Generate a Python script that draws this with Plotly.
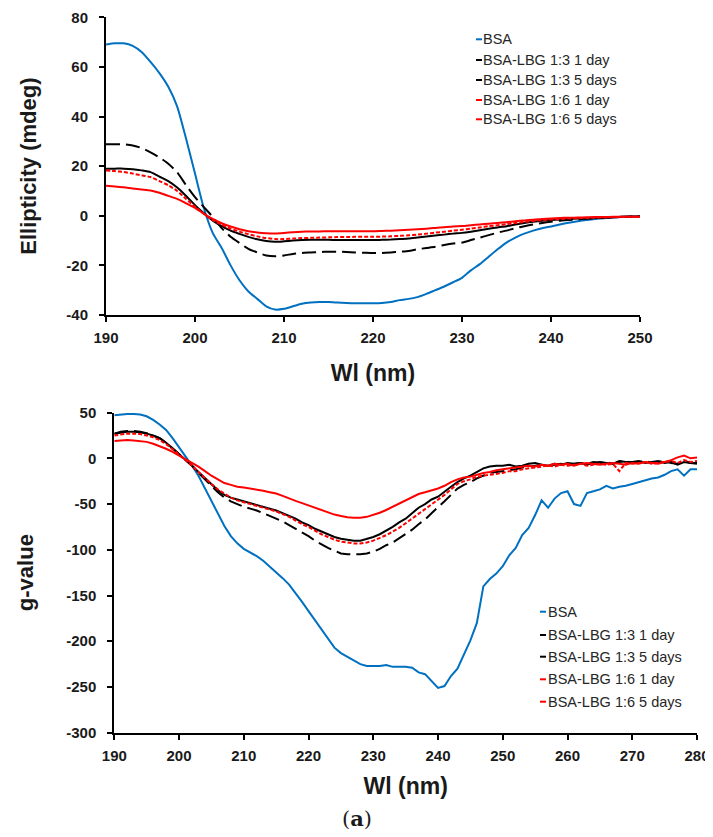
import plotly.graph_objects as go

# ---------------- data ----------------
wl_top = list(range(190, 251))
ell_bsa = [69, 69.5, 69.5, 68.5, 66, 62, 57.5, 52, 44, 31,
           17, 3, -7, -13, -20, -26, -30.5, -33.5, -36.5, -37.8,
           -37.5, -36.5, -35.5, -35, -34.8, -34.8, -35, -35.2, -35.3, -35.3,
           -35.3, -35.2, -34.8, -34, -33.5, -32.8, -31.5, -30, -28.5, -26.8,
           -25, -22, -19.5, -16.5, -13.5, -10.8, -8.8, -7.2, -6, -5,
           -4.3, -3.5, -2.8, -2.2, -1.7, -1.3, -1, -0.7, -0.5, -0.3, -0.2]
ell_13_1d = [19, 19, 19, 18.8, 18.3, 17.6, 15.8, 14, 11.4, 8,
             4.3, 1, -2, -4.2, -6, -7.3, -8.5, -9.5, -10.2, -10.5,
             -10.3, -10, -9.8, -9.7, -9.7, -9.7, -9.8, -9.8, -9.8, -9.8,
             -9.8, -9.7, -9.6, -9.4, -9.2, -8.8, -8.4, -8, -7.6, -7.2,
             -6.9, -6.4, -5.8, -5.2, -4.7, -4.2, -3.5, -2.9, -2.4, -2,
             -1.7, -1.5, -1.3, -1.1, -1, -0.9, -0.7, -0.6, -0.4, -0.3, -0.3]
ell_13_5d = [28.8, 28.8, 28.8, 28.3, 27.3, 25.6, 23.5, 21, 17.5, 12.3,
             7.5, 3.5, -0.5, -5, -8.5, -11, -13.3, -14.8, -16, -16.3,
             -16, -15.4, -15, -14.8, -14.6, -14.5, -14.5, -14.6, -14.8, -14.9,
             -15, -15, -14.8, -14.5, -14.2, -13.5, -13, -12.5, -11.8, -11.2,
             -10.8, -9.8, -8.8, -7.8, -6.8, -6, -5, -4.2, -3.5, -2.9,
             -2.4, -2, -1.7, -1.4, -1.2, -1, -0.8, -0.6, -0.4, -0.3, -0.2]
ell_16_1d = [18.2, 18, 17.6, 17, 16.3, 15.6, 14, 12.3, 10, 6.8,
             3.6, 0.8, -1.8, -3.6, -5.2, -6.4, -7.4, -8.3, -9, -9.4,
             -9.4, -9.2, -9, -8.9, -8.8, -8.7, -8.6, -8.6, -8.5, -8.5,
             -8.5, -8.4, -8.3, -8.1, -7.9, -7.6, -7.2, -6.8, -6.4, -6,
             -5.6, -5.2, -4.7, -4.2, -3.8, -3.4, -2.9, -2.5, -2.1, -1.8,
             -1.5, -1.3, -1.1, -1, -0.9, -0.8, -0.7, -0.6, -0.5, -0.4, -0.4]
ell_16_5d = [12.1, 11.8, 11.5, 11, 10.6, 10.2, 9.3, 8, 6.8, 5,
             3.2, 0.8, -1.3, -3, -4.3, -5.4, -6.2, -6.7, -7, -7.1,
             -6.9, -6.6, -6.4, -6.3, -6.3, -6.2, -6.2, -6.2, -6.2, -6.2,
             -6.2, -6.1, -6, -5.8, -5.6, -5.4, -5.2, -4.9, -4.6, -4.3,
             -4.1, -3.8, -3.5, -3.2, -2.9, -2.6, -2.2, -1.9, -1.6, -1.3,
             -1.1, -0.9, -0.8, -0.7, -0.6, -0.5, -0.5, -0.4, -0.4, -0.4, -0.4]

wl_bot = list(range(190, 281))
g_bsa = [47, 48, 48.5, 48.5, 48, 46, 42, 37, 31, 22,
         12, 3, -8, -19, -33, -47, -61, -74, -85, -93,
         -99, -103, -107, -112, -118, -124, -131, -138, -147, -157,
         -167, -177, -188, -198, -207, -213, -217, -221, -225, -227,
         -227, -227, -226, -228, -228, -228, -229, -234, -236, -243,
         -251, -249, -238, -230, -215, -199, -180, -140, -132, -126,
         -118, -106, -98, -84, -76, -62, -46, -54, -44, -38,
         -36, -50, -52, -38, -36, -34, -30, -33, -31, -30,
         -28, -26, -24, -22, -21, -18, -14, -12, -19, -12, -12]
g_13_1d = [27, 28, 29, 29, 28.5, 27, 25, 22, 17, 11,
           5, -1, -8, -15, -22, -29, -35, -40, -43, -45,
           -47, -49, -51, -53, -55, -57, -60, -63, -66, -70,
           -73, -77, -80, -83, -86, -88, -89, -90, -90, -88,
           -86, -83, -79, -75, -70, -66, -60, -54, -50, -45,
           -42, -36, -31, -26, -22, -19, -15, -11, -9, -8,
           -8, -7, -9, -8, -6, -5, -7, -8, -6, -7,
           -5, -6, -5, -7, -5, -4, -5, -6, -3, -4,
           -4, -3, -5, -4, -3, -5, -4, -7, -4, -5, -6]
g_13_5d = [27, 29, 30, 30, 29, 27.5, 25, 22, 17, 11,
           5, -1, -8, -16, -23, -31, -37, -43, -47, -50,
           -53, -55, -57, -60, -63, -66, -69, -73, -77, -81,
           -85, -90, -94, -98, -101, -104, -105, -105, -105, -104,
           -102, -99, -95, -92, -87, -83, -78, -72, -67, -60,
           -54, -47, -40, -33, -29, -26, -22, -19, -16, -15,
           -14, -13, -12, -10, -9, -8, -7, -8, -7, -6,
           -7, -6, -5, -6, -4, -5, -4, -6, -4, -3,
           -5, -4, -3, -5, -4, -3, -5, -6, -3, -5, -5]
g_16_1d = [25, 26, 27, 27, 26.5, 25, 23, 20, 15.5, 10,
           4, -1, -8, -15, -22, -28, -34, -39, -43, -46,
           -48, -50, -52, -54, -56, -58, -61, -64, -68, -72,
           -75, -79, -83, -86, -89, -91, -92, -93, -93, -92,
           -90, -87, -84, -80, -76, -71, -66, -60, -56, -50,
           -46, -40, -34, -28, -25, -23, -20, -19, -18, -17,
           -16, -14, -14, -12, -11, -10, -9, -8, -9, -7,
           -8, -7, -6, -8, -7, -6, -7, -6, -14, -5,
           -6, -5, -4, -6, -5, -4, -3, -5, -2, -4, -3]
g_16_5d = [19, 19.5, 20, 19.5, 19, 18, 16, 13.5, 10.5, 7,
           3, -1, -5, -9, -14, -19, -23, -27, -29, -31,
           -32, -33, -34, -35.5, -37, -38.5, -41, -44, -46.5, -49,
           -51.5, -54, -57, -59.5, -61.5, -63, -64.5, -65, -65, -64,
           -62, -59.5, -56.5, -53, -49.5, -46, -42, -39, -37, -35,
           -33, -30, -26, -23, -21, -20, -18, -16, -15, -13,
           -12, -11, -10, -9, -8, -9, -7, -8, -6, -7,
           -6, -8, -6, -5, -6, -7, -6, -5, -6, -7,
           -5, -6, -4, -5, -6, -4, -2, 1, 3, 0, 1]

series_names = ["BSA", "BSA-LBG 1:3 1 day", "BSA-LBG 1:3 5 days",
                "BSA-LBG 1:6 1 day", "BSA-LBG 1:6 5 days"]

top_xticks = [190, 200, 210, 220, 230, 240, 250]
top_yticks = [-40, -20, 0, 20, 40, 60, 80]
bot_xticks = [190, 200, 210, 220, 230, 240, 250, 260, 270, 280]
bot_yticks = [-300, -250, -200, -150, -100, -50, 0, 50]

# ---------------- styles ----------------
# the page body has an 8px margin, so the figure is sized / positioned to compensate
OFF = 8
W, H = 713 - OFF, 837 - OFF
BLUE = "#0070C0"
RED = "#FF0000"
BLACK = "#000000"
styles = [
    dict(color=BLUE, width=2, dash="solid"),
    dict(color=BLACK, width=2, dash="solid"),
    dict(color=BLACK, width=2, dash="14px,6px"),
    dict(color=RED, width=2, dash="4px,2px"),
    dict(color=RED, width=2, dash="solid"),
]

def px(x):
    return (x - OFF) / W

def py(y):
    return 1 - (y - OFF) / H

fig = go.Figure()
top_series = [ell_bsa, ell_13_1d, ell_13_5d, ell_16_1d, ell_16_5d]
bot_series = [g_bsa, g_13_1d, g_13_5d, g_16_1d, g_16_5d]
for name, ys, st in zip(series_names, top_series, styles):
    fig.add_trace(go.Scatter(x=wl_top, y=ys, mode="lines", name=name,
                             line=dict(shape="spline", smoothing=0.6, **st),
                             xaxis="x", yaxis="y", showlegend=False))
for name, ys, st in zip(series_names, bot_series, styles):
    fig.add_trace(go.Scatter(x=wl_bot, y=ys, mode="lines", name=name,
                             line=st, xaxis="x2", yaxis="y2", showlegend=False))

tick_font = dict(family="Liberation Sans", size=15, color="#1a1a1a")
title_font = dict(family="Liberation Sans", size=22, color="#1a1a1a")
xtitle_font = dict(family="Liberation Sans", size=23, color="#1a1a1a")

def fmt(v):
    return str(v) if v >= 0 else "-" + str(abs(v))

axis_common = dict(showgrid=False, zeroline=False, showline=True,
                   linecolor="black", linewidth=2, ticks="outside",
                   ticklen=5, tickwidth=2, tickcolor="black",
                   tickfont=tick_font, mirror=False, automargin=False)

fig.update_layout(
    width=W, height=H, autosize=False,
    margin=dict(l=0, r=0, t=0, b=0, pad=0),
    paper_bgcolor="white", plot_bgcolor="white",
    xaxis=dict(domain=[px(106), px(640)], anchor="y", range=[190, 250],
               tickvals=top_xticks, ticktext=[f"<b>{v}</b>" for v in top_xticks],
               title=dict(text="<b>Wl (nm)</b>", font=xtitle_font, standoff=20),
               ticklabelstandoff=3,
               **axis_common),
    yaxis=dict(domain=[py(315), py(17.3)], anchor="x", range=[-40, 80],
               tickvals=top_yticks, ticktext=[f"<b>{fmt(v)}</b>" for v in top_yticks],
               title=dict(text="<b>Ellipticity (mdeg)</b>", font=title_font, standoff=24),
               ticklabelstandoff=8,
               **axis_common),
    xaxis2=dict(domain=[px(114.3), px(697)], anchor="y2", range=[190, 280],
                tickvals=bot_xticks, ticktext=[f"<b>{v}</b>" for v in bot_xticks],
                title=dict(text="<b>Wl (nm)</b>", font=xtitle_font, standoff=15),
                ticklabelstandoff=3,
                **axis_common),
    yaxis2=dict(domain=[py(732.7), py(412.6)], anchor="x2", range=[-300, 50],
                tickvals=bot_yticks, ticktext=[f"<b>{fmt(v)}</b>" for v in bot_yticks],
                title=dict(text="<b>g-value</b>", font=title_font, standoff=27),
                ticklabelstandoff=8,
                **axis_common),
)

# ---------------- legends (drawn as small dashes + text) ----------------
leg_font = dict(family="Liberation Sans", size=14.5, color="#262626")
top_leg_rows = [39.3, 60, 80, 100, 119.3]
bot_leg_rows = [611.7, 635, 656.7, 679.3, 701.7]
for rows, x0, xt in [(top_leg_rows, 476, 481), (bot_leg_rows, 540, 546)]:
    for name, st, yrow in zip(series_names, styles, rows):
        fig.add_shape(type="line", xref="paper", yref="paper",
                      x0=px(x0), x1=px(x0 + 6), y0=py(yrow), y1=py(yrow),
                      line=dict(color=st["color"], width=2))
        fig.add_annotation(xref="paper", yref="paper", x=px(xt), y=py(yrow),
                           xanchor="left", yanchor="middle", showarrow=False,
                           text=name, font=leg_font)

fig.add_annotation(xref="paper", yref="paper", x=px(356.7), y=py(818),
                   xanchor="center", yanchor="middle", showarrow=False,
                   text="(<b>a</b>)", font=dict(family="DejaVu Serif", size=21, color="#1a1a1a"))

fig.write_html("out.html")
